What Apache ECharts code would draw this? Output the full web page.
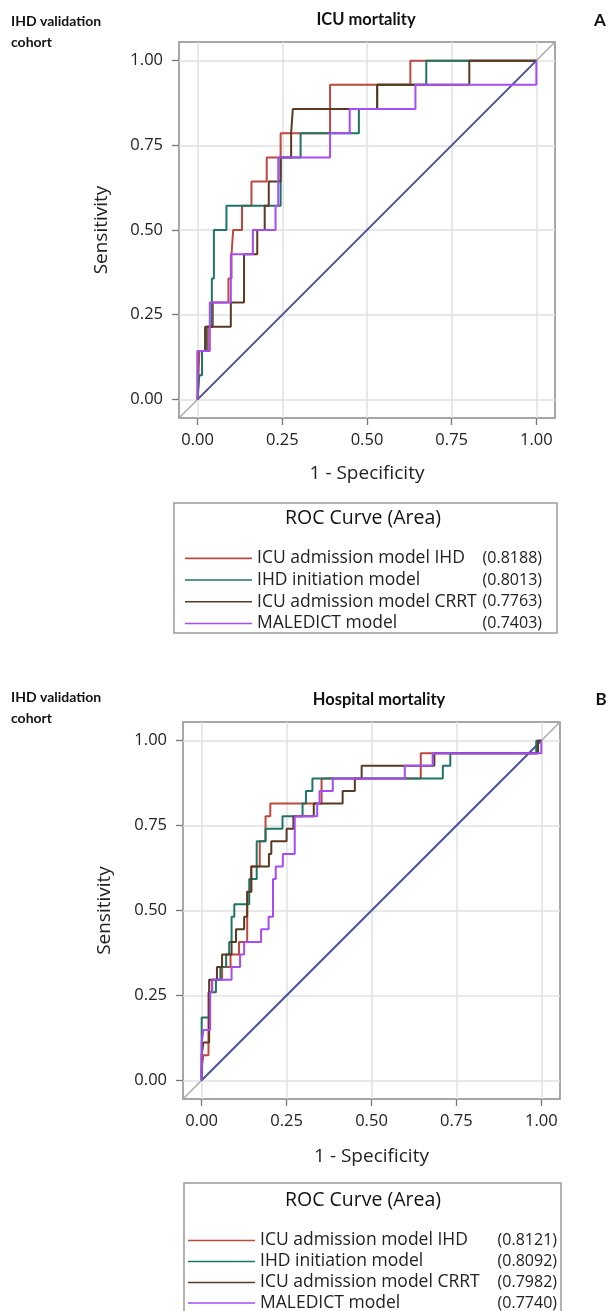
<!DOCTYPE html>
<html><head><meta charset="utf-8">
<script src="https://cdn.jsdelivr.net/npm/echarts@6/dist/echarts.min.js"></script>
<style>html,body{margin:0;padding:0;background:#fff}#c{width:608px;height:1311px}</style>
</head><body><div id="c"></div>
<script>
// ---------- data ----------
const seriesNames = ['ICU admission model IHD', 'IHD initiation model', 'ICU admission model CRRT', 'MALEDICT model'];
const tickValues = [0, 0.25, 0.5, 0.75, 1];
const aucICU  = ['0.8188', '0.8013', '0.7763', '0.7403'];
const aucHosp = ['0.8121', '0.8092', '0.7982', '0.7740'];
const eventsICU = 14;   // sensitivity steps of 1/14
const eventsHosp = 27;  // sensitivity steps of 1/27

// ICU mortality: (1 - specificity, true-positive count) at each step corner
const icuIhdFpr  = [0, 0.005, 0.03, 0.045, 0.091, 0.1, 0.105, 0.131, 0.159, 0.204, 0.245, 0.391, 0.628, 1];
const icuIhdTp   = [0, 2, 3, 4, 5, 6, 7, 8, 9, 10, 11, 13, 14, 14];
const icuInitFpr = [0, 0.005, 0.013, 0.025, 0.042, 0.048, 0.085, 0.245, 0.304, 0.476, 0.53, 0.675, 1];
const icuInitTp  = [0, 1, 2, 3, 5, 7, 8, 10, 11, 12, 13, 14, 14];
const icuCrrtFpr = [0, 0, 0.022, 0.098, 0.137, 0.176, 0.198, 0.21, 0.245, 0.276, 0.281, 0.53, 0.802, 1];
const icuCrrtTp  = [0, 2, 3, 4, 6, 7, 8, 9, 10, 11, 12, 13, 14, 14];
const icuMalFpr  = [0, 0, 0.036, 0.098, 0.163, 0.23, 0.238, 0.391, 0.449, 0.643, 1];
const icuMalTp   = [0, 2, 4, 6, 7, 8, 10, 11, 12, 13, 14];

// Hospital mortality
const hospIhdFpr  = [0, 0, 0.005, 0.02, 0.03, 0.06, 0.085, 0.11, 0.134, 0.146, 0.171, 0.188, 0.202, 0.353, 0.645, 0.99, 1];
const hospIhdTp   = [0, 1, 2, 7, 8, 9, 10, 11, 15, 17, 19, 21, 22, 24, 26, 27, 27];
const hospInitFpr = [0, 0, 0.024, 0.042, 0.055, 0.072, 0.081, 0.088, 0.096, 0.14, 0.162, 0.188, 0.238, 0.297, 0.307, 0.326, 0.71, 0.732, 0.985, 1];
const hospInitTp  = [0, 5, 7, 8, 9, 10, 11, 13, 14, 16, 19, 20, 21, 22, 23, 24, 25, 26, 27, 27];
const hospCrrtFpr = [0, 0, 0.005, 0.022, 0.045, 0.06, 0.088, 0.101, 0.125, 0.134, 0.146, 0.198, 0.205, 0.25, 0.27, 0.33, 0.415, 0.451, 0.471, 0.685, 0.99, 1];
const hospCrrtTp  = [0, 2, 3, 8, 9, 10, 11, 12, 13, 15, 17, 18, 19, 20, 21, 22, 23, 24, 25, 26, 27, 27];
const hospMalFpr  = [0, 0, 0.005, 0.025, 0.031, 0.088, 0.113, 0.125, 0.175, 0.197, 0.21, 0.218, 0.239, 0.274, 0.34, 0.347, 0.386, 0.598, 0.68, 1];
const hospMalTp   = [0, 3, 4, 7, 8, 9, 10, 11, 12, 13, 16, 17, 18, 21, 22, 23, 24, 25, 26, 27];

const chanceLine = [0, 1];

// ---------- styling ----------
const colors = ['#C0473D', '#1E7566', '#5B3A22', '#A64CF6'];
const AX_MIN = -0.055, AX_MAX = 1.055;
const FONT = "'Open Sans', sans-serif";
const BOLD = "Lato, 'Open Sans', sans-serif";

const chart = echarts.init(document.getElementById('c'), null, {renderer: 'canvas'});

function axisCommon(name, isX, gap) {
  return {
    type: 'value', min: AX_MIN, max: AX_MAX,
    name: name, nameLocation: 'middle', nameGap: gap,
    nameTextStyle: {fontFamily: FONT, fontSize: 19, color: '#222'},
    axisLine: {show: false, onZero: false},
    axisTick: {show: true, customValues: tickValues, length: 7, lineStyle: {color: '#777', width: 1.3}},
    axisLabel: {customValues: tickValues, formatter: v => v.toFixed(2), fontFamily: FONT, fontSize: 16.5, color: '#222', margin: isX ? 14 : 16},
    splitLine: {show: true, lineStyle: {color: '#e1e1e1', width: 1.5}}
  };
}

function roc(fpr, tp, n, idx, g) {
  return {
    type: 'line', name: seriesNames[idx], xAxisIndex: g, yAxisIndex: g,
    data: fpr.map((f, i) => [f, tp[i] / n]),
    step: 'end', symbol: 'none', silent: true, z: 4 + idx,
    lineStyle: {color: colors[idx], width: 2}, itemStyle: {color: colors[idx]}
  };
}
function diag(g) {
  return [
    {type: 'line', xAxisIndex: g, yAxisIndex: g, data: [[AX_MIN, AX_MIN], [AX_MAX, AX_MAX]],
     symbol: 'none', silent: true, z: 2, lineStyle: {color: '#a8a8a8', width: 1.5}},
    {type: 'line', xAxisIndex: g, yAxisIndex: g, data: chanceLine.map(v => [v, v]),
     symbol: 'none', silent: true, z: 3, lineStyle: {color: '#4B56A3', width: 2}}
  ];
}
function legendOf(names, left, top, aucs, lh, nameW) {
  return {
    data: names, orient: 'vertical', left: left, top: top, padding: 0, itemGap: 0,
    itemWidth: 67, itemHeight: 1.6, icon: 'rect', selectedMode: false,
    formatter: name => '{n|' + name + '}{v|(' + aucs[seriesNames.indexOf(name)] + ')}',
    textStyle: {
      fontFamily: FONT, color: '#222', lineHeight: lh,
      rich: {
        n: {fontFamily: FONT, fontSize: 17.5, color: '#222', width: nameW, lineHeight: lh},
        v: {fontFamily: FONT, fontSize: 16, color: '#222', width: 64, align: 'right', lineHeight: lh}
      }
    }
  };
}
function txt(x, y, s, size, bold, align, family) {
  return {type: 'text', x: x, y: y, silent: true,
    style: {text: s, fontFamily: family || FONT, fontSize: size, fontWeight: bold ? 'bold' : 'normal',
      fill: '#111', align: align || 'left', verticalAlign: 'middle'}};
}

const option = {
  animation: false,
  backgroundColor: '#fff',
  grid: [
    {left: 179, top: 42, width: 376, height: 376, show: true, borderColor: '#8a8a8a', borderWidth: 1.5, backgroundColor: '#fff'},
    {left: 183, top: 722, width: 377, height: 377, show: true, borderColor: '#8a8a8a', borderWidth: 1.5, backgroundColor: '#fff'}
  ],
  xAxis: [
    Object.assign(axisCommon('1 - Specificity', true, 46), {gridIndex: 0}),
    Object.assign(axisCommon('1 - Specificity', true, 48), {gridIndex: 1})
  ],
  yAxis: [
    Object.assign(axisCommon('Sensitivity', false, 68), {gridIndex: 0}),
    Object.assign(axisCommon('Sensitivity', false, 69), {gridIndex: 1})
  ],
  legend: [
    legendOf(seriesNames, 185, 547.5, aucICU, 21.7, 221),
    legendOf(seriesNames.slice(0, 3), 188, 1230, aucHosp, 21, 233),
    legendOf(seriesNames.slice(3), 188, 1292.5, aucHosp, 21, 233)
  ],
  graphic: [
    {type: 'rect', shape: {x: 174, y: 503, width: 383, height: 130}, silent: true, z: -1,
     style: {fill: '#fff', stroke: '#9a9a9a', lineWidth: 1.5}},
    {type: 'rect', shape: {x: 184, y: 1183, width: 377, height: 140}, silent: true, z: -1,
     style: {fill: '#fff', stroke: '#9a9a9a', lineWidth: 1.5}},
    txt(363, 518, 'ROC Curve (Area)', 19.5, false, 'center'),
    txt(363, 1200, 'ROC Curve (Area)', 19.5, false, 'center'),
    txt(11, 21, 'IHD validation', 14, true, 'left', BOLD),
    txt(11, 42, 'cohort', 14, true, 'left', BOLD),
    txt(366, 20, 'ICU mortality', 16.5, true, 'center', BOLD),
    txt(600, 21, 'A', 17, true, 'center', BOLD),
    txt(11, 697, 'IHD validation', 14, true, 'left', BOLD),
    txt(11, 718, 'cohort', 14, true, 'left', BOLD),
    txt(379, 700, 'Hospital mortality', 16.5, true, 'center', BOLD),
    txt(601, 700, 'B', 17, true, 'center', BOLD)
  ],
  series: [].concat(
    diag(0), diag(1),
    roc(icuIhdFpr, icuIhdTp, eventsICU, 0, 0),
    roc(icuInitFpr, icuInitTp, eventsICU, 1, 0),
    roc(icuCrrtFpr, icuCrrtTp, eventsICU, 2, 0),
    roc(icuMalFpr, icuMalTp, eventsICU, 3, 0),
    roc(hospIhdFpr, hospIhdTp, eventsHosp, 0, 1),
    roc(hospInitFpr, hospInitTp, eventsHosp, 1, 1),
    roc(hospCrrtFpr, hospCrrtTp, eventsHosp, 2, 1),
    roc(hospMalFpr, hospMalTp, eventsHosp, 3, 1)
  )
};
chart.setOption(option);
</script></body></html>
